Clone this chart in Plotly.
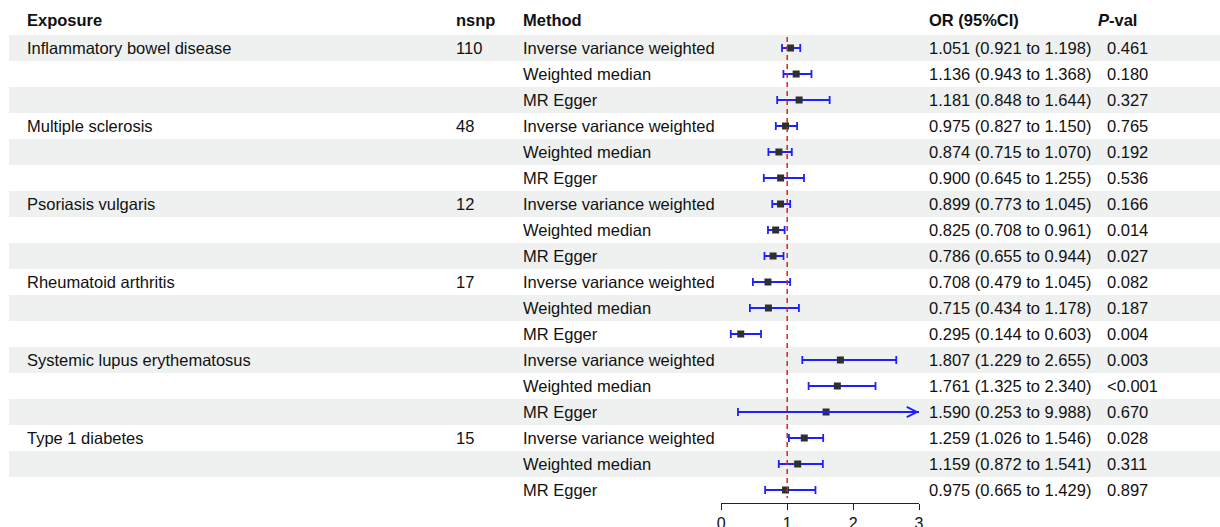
import plotly.graph_objects as go

exposures = ["Inflammatory bowel disease", "Multiple sclerosis", "Psoriasis vulgaris",
             "Rheumatoid arthritis", "Systemic lupus erythematosus", "Type 1 diabetes"]
nsnp = ["110", "48", "12", "17", "", "15"]
methods = ["Inverse variance weighted", "Weighted median", "MR Egger"]

or_vals = [1.051, 1.136, 1.181, 0.975, 0.874, 0.900, 0.899, 0.825, 0.786,
           0.708, 0.715, 0.295, 1.807, 1.761, 1.590, 1.259, 1.159, 0.975]
lo_vals = [0.921, 0.943, 0.848, 0.827, 0.715, 0.645, 0.773, 0.708, 0.655,
           0.479, 0.434, 0.144, 1.229, 1.325, 0.253, 1.026, 0.872, 0.665]
hi_vals = [1.198, 1.368, 1.644, 1.150, 1.070, 1.255, 1.045, 0.961, 0.944,
           1.045, 1.178, 0.603, 2.655, 2.340, 9.988, 1.546, 1.541, 1.429]
p_vals = ["0.461", "0.180", "0.327", "0.765", "0.192", "0.536", "0.166", "0.014", "0.027",
          "0.082", "0.187", "0.004", "0.003", "<0.001", "0.670", "0.028", "0.311", "0.897"]

tick_vals = [0, 1, 2, 3]
X_MIN, X_MAX = 0, 3

W, H = 1220, 527
FONT = "Liberation Sans, Arial, Helvetica, sans-serif"
FS = 16.5
TXT = "#111111"

n = len(or_vals)
rows = list(range(1, n + 1))

ROW0_PX, ROW_H = 48, 26
AXIS_PX = 503
def px_to_r(p):
    return 1 + (p - ROW0_PX) / ROW_H
r_top = px_to_r(0)
r_bot = px_to_r(AXIS_PX)

x0_px, x3_px = 721.3, 919.0

fig = go.Figure()

shapes = []
for r in rows:
    if r % 2 == 1:
        shapes.append(dict(type="rect", xref="paper", yref="y", x0=9 / W, x1=1,
                           y0=r - 0.5, y1=r + 0.5, fillcolor="#EEF1F0",
                           line=dict(width=0), layer="below"))
shapes.append(dict(type="line", xref="x", yref="y", x0=1, x1=1,
                   y0=px_to_r(37), y1=px_to_r(498),
                   line=dict(color="#E0201B", width=1.5, dash="5px,4px"), layer="above"))

fig.add_trace(go.Scatter(
    x=or_vals, y=rows, mode="markers",
    marker=dict(size=1, color="rgba(0,0,0,0)"),
    error_x=dict(type="data", symmetric=False,
                 array=[h - o for h, o in zip(hi_vals, or_vals)],
                 arrayminus=[o - l for o, l in zip(or_vals, lo_vals)],
                 color="#1F1FFF", thickness=1.8, width=4),
    hoverinfo="skip", showlegend=False, cliponaxis=True))

fig.add_trace(go.Scatter(
    x=or_vals, y=rows, mode="markers",
    marker=dict(symbol="square", size=7, color="#2f2f2f"),
    showlegend=False))

annotations = []
for r, lo, hi in zip(rows, lo_vals, hi_vals):
    if hi > X_MAX:
        annotations.append(dict(x=X_MAX, y=r, ax=max(lo, X_MIN), ay=r, xref="x", yref="y",
                                axref="x", ayref="y", showarrow=True, arrowhead=5,
                                arrowsize=1.1, arrowwidth=1.8, arrowcolor="#1F1FFF", text=""))

def txt(xpx, r, s, bold=False):
    annotations.append(dict(x=(xpx - 2) / W, y=r, xref="paper", yref="y",
                            text=("<b>%s</b>" % s) if bold else s,
                            showarrow=False, xanchor="left", yanchor="middle",
                            font=dict(family=FONT, size=FS, color=TXT)))

hdr_r = px_to_r(20)
txt(27, hdr_r, "Exposure", True)
txt(456, hdr_r, "nsnp", True)
txt(523, hdr_r, "Method", True)
txt(929, hdr_r, "OR (95%CI)", True)
txt(1098, hdr_r, "<b><i>P</i>-val</b>")

for i, r in enumerate(rows):
    g, m = divmod(i, 3)
    if m == 0:
        txt(27, r, exposures[g])
        if nsnp[g]:
            txt(456, r, nsnp[g])
    txt(523, r, methods[m])
    txt(929, r, "%.3f (%.3f to %.3f)" % (or_vals[i], lo_vals[i], hi_vals[i]))
    txt(1107, r, p_vals[i])

fig.update_layout(
    width=W, height=H, margin=dict(l=0, r=0, t=0, b=0, autoexpand=False),
    paper_bgcolor="white", plot_bgcolor="rgba(0,0,0,0)",
    shapes=shapes, annotations=annotations, showlegend=False,
    xaxis=dict(domain=[x0_px / W, x3_px / W], range=[X_MIN, X_MAX], tickvals=tick_vals,
               ticktext=[str(t) for t in tick_vals], showgrid=False, zeroline=False,
               showline=True, linecolor="#222", linewidth=1.2, ticks="outside",
               ticklen=6, tickwidth=1.2, tickcolor="#222", automargin=False,
               tickfont=dict(family=FONT, size=16, color=TXT), fixedrange=True),
    yaxis=dict(domain=[(H - AXIS_PX) / H, 1], range=[r_bot, r_top], showgrid=False,
               zeroline=False, showticklabels=False, showline=False, fixedrange=True,
               automargin=False),
)

fig.write_html("out.html")
